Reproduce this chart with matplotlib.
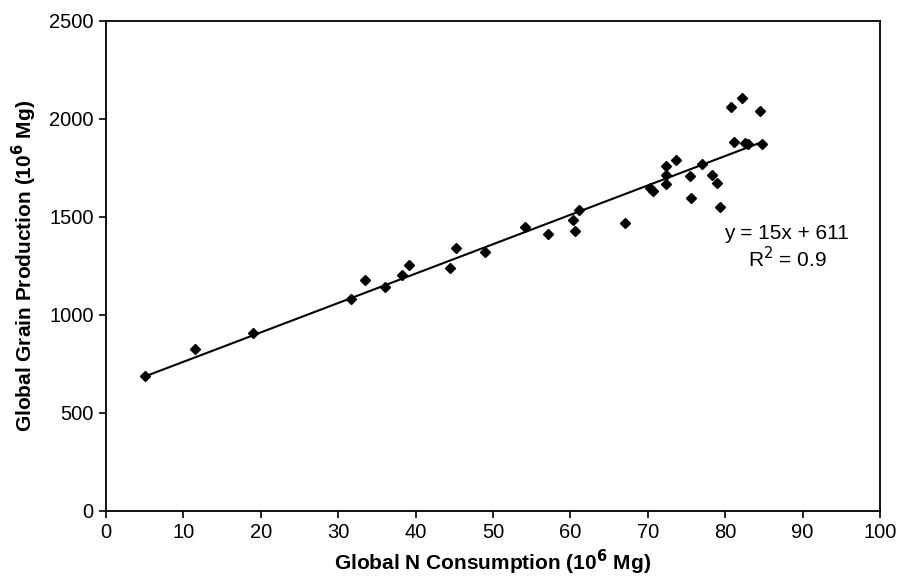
import matplotlib
matplotlib.use("Agg")
import matplotlib.pyplot as plt
import numpy as np

plt.rcParams['font.family'] = ['Liberation Sans', 'DejaVu Sans']

# N consumption (10^6 Mg) and grain production (10^6 Mg)
n_consumption = [5.0, 11.5, 19.0, 31.7, 33.4, 36.0, 38.3, 39.1, 44.4, 45.2,
                 49.0, 54.2, 57.1, 60.3, 60.6, 61.1, 67.0, 70.3, 70.7, 72.3,
                 72.3, 72.4, 73.6, 75.5, 75.6, 77.0, 78.3, 79.0, 79.3, 80.8,
                 82.2, 84.5, 81.2, 82.5, 82.9, 84.8]
grain_prod = [689, 825, 906, 1080, 1179, 1143, 1206, 1255, 1241, 1343,
              1320, 1447, 1413, 1483, 1430, 1536, 1471, 1646, 1633, 1762,
              1714, 1667, 1792, 1709, 1599, 1770, 1716, 1672, 1549, 2060,
              2109, 2042, 1882, 1876, 1870, 1870]

slope = 15
intercept = 611

fig = plt.figure(figsize=(8.97, 5.78), dpi=100)
ax = fig.add_axes([0.1182, 0.116, 0.8628, 0.8477])

ax.plot(n_consumption, grain_prod, linestyle='none', marker='D',
        markersize=5.5, color='black')

# trend line across the data range
xs = np.array([min(n_consumption), max(n_consumption)])
ax.plot(xs, slope * xs + intercept, color='black', linewidth=1.5)

ax.text(87.9, 1418, "y = 15x + 611", ha='center', va='center', fontsize=15)
ax.text(88.1, 1286, "R$^2$ = 0.9", ha='center', va='center', fontsize=15)

ax.set_xlim(0, 100)
ax.set_ylim(0, 2500)
ax.set_xticks(range(0, 101, 10))
ax.set_yticks(range(0, 2501, 500))
ax.tick_params(direction='out', length=5, width=1.2, labelsize=14.5,
               colors='black', pad=4)

for s in ax.spines.values():
    s.set_linewidth(1.3)
    s.set_color('black')

ax.set_xlabel("Global N Consumption (10$^{\\mathbf{6}}$ Mg)", fontsize=15,
              fontweight='bold', labelpad=4)
ax.set_ylabel("Global Grain Production (10$^{\\mathbf{6}}$ Mg)", fontsize=15,
              fontweight='bold', labelpad=7)

fig.savefig("out.png", dpi=100)
